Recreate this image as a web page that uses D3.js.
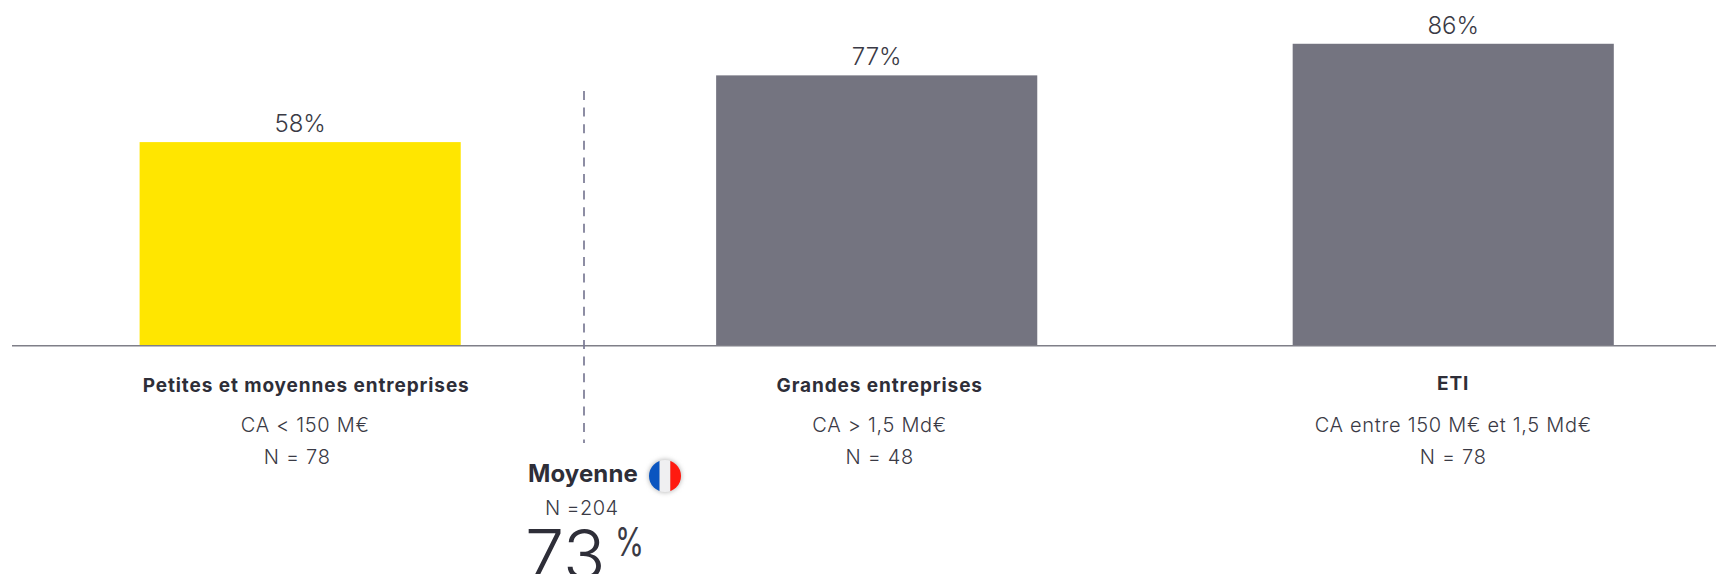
<!DOCTYPE html>
<html lang="fr">
<head>
<meta charset="utf-8">
<title>Moyenne France</title>
<script src="https://cdn.jsdelivr.net/npm/d3@7/dist/d3.min.js"></script>
<style>
  html, body { margin: 0; padding: 0; background: #fff; overflow: hidden; }
  svg { display: block; }
  text { font-family: "Inter", "Noto Sans", sans-serif; fill: #3a3a45; }
  .value { font-size: 24px; font-weight: 300; text-anchor: middle; }
  .title { font-size: 19px; font-weight: 700; text-anchor: middle; fill: #2e2e38; letter-spacing: .9px; }
  .sub { font-size: 20px; font-weight: 300; text-anchor: middle; letter-spacing: .7px; }
</style>
</head>
<body>
<div id="chart"></div>
<script>
// Survey results by company size
const categories = ["Petites et moyennes entreprises", "Grandes entreprises", "ETI"];
const values = [58, 77, 86];
const revenueBands = ["CA < 150 M€", "CA > 1,5 Md€", "CA entre 150 M€ et 1,5 Md€"];
const sampleSizes = ["N = 78", "N = 48", "N = 78"];
const averageLabel = "Moyenne";
const averageSample = "N =204";
const averageValue = 73;

const width = 1716, height = 574;
const baselineY = 345.8;
const barColors = ["#FFE600", "#747480", "#747480"];
// Horizontal nudges of the label rows relative to each bar centre
const titleShift = [6, 3, 0];
const bandShift = [5, 3, 0];
const sampleShift = [-3, 3, 0];

const svg = d3.select("#chart").append("svg")
  .attr("width", width).attr("height", height);

const x = d3.scaleBand().domain(categories).range([139.6, 1613.8]).paddingInner(0.443);
const y = d3.scaleLinear().domain([0, 100]).range([baselineY, baselineY - 351.2]);

// Bars
svg.selectAll("rect.bar").data(categories).join("rect")
  .attr("class", "bar")
  .attr("x", d => x(d))
  .attr("width", x.bandwidth())
  .attr("y", (d, i) => y(values[i]))
  .attr("height", (d, i) => y(0) - y(values[i]))
  .attr("fill", (d, i) => barColors[i]);

// Baseline
svg.append("line")
  .attr("x1", 12).attr("x2", width)
  .attr("y1", baselineY).attr("y2", baselineY)
  .attr("stroke", "#7f7f88").attr("stroke-width", 1.5);

// Vertical separator
svg.append("line")
  .attr("x1", 584).attr("x2", 584)
  .attr("y1", 91).attr("y2", 443)
  .attr("stroke", "#7a7a94").attr("stroke-width", 1.7)
  .attr("stroke-dasharray", "9 7.6");

// Value labels
svg.selectAll("text.value").data(values).join("text")
  .attr("class", "value")
  .attr("x", (d, i) => x(categories[i]) + x.bandwidth() / 2)
  .attr("y", d => y(d) - 10)
  .text(d => d + "%");

// Category titles and details
const center = i => x(categories[i]) + x.bandwidth() / 2;
svg.selectAll("text.title").data(categories).join("text")
  .attr("class", "title")
  .attr("x", (d, i) => center(i) + titleShift[i])
  .attr("y", (d, i) => i === 2 ? 389.5 : 391.5)
  .text(d => d);
svg.selectAll("text.band").data(revenueBands).join("text")
  .attr("class", "sub band")
  .attr("x", (d, i) => center(i) + bandShift[i])
  .attr("y", 431.5)
  .text(d => d);
svg.selectAll("text.sample").data(sampleSizes).join("text")
  .attr("class", "sub sample")
  .attr("x", (d, i) => center(i) + sampleShift[i])
  .attr("y", 464)
  .text(d => d);

// National average block
svg.append("text").attr("x", 528).attr("y", 482)
  .attr("font-size", 24).attr("font-weight", 700)
  .attr("letter-spacing", 0.1)
  .style("fill", "#2e2e38").text(averageLabel);

svg.append("text").attr("x", 545).attr("y", 515)
  .attr("font-size", 20).attr("font-weight", 300)
  .attr("letter-spacing", 0.4).text(averageSample);

svg.append("text").attr("x", 525).attr("y", 580)
  .attr("font-size", 70).attr("font-weight", 300)
  .style("fill", "#2e2e38").text(averageValue);

// Narrow percent sign beside the average
svg.append("text").attr("transform", "translate(615,556) scale(0.74,1)")
  .attr("font-size", 40).attr("font-weight", 400).text("%");

// French flag badge
const defs = svg.append("defs");
defs.append("clipPath").attr("id", "flag-clip")
  .append("circle").attr("r", 16);
const shadow = defs.append("filter").attr("id", "flag-shadow")
  .attr("x", "-30%").attr("y", "-30%").attr("width", "160%").attr("height", "160%");
shadow.append("feGaussianBlur").attr("stdDeviation", 2);

const flag = svg.append("g").attr("transform", "translate(665,476)");
flag.append("circle").attr("r", 17).attr("fill", "#c4c4c4")
  .attr("filter", "url(#flag-shadow)");
const flagColors = ["#0a55c0", "#efeff1", "#ff1a10"];
const flagX = d3.scaleBand().domain(d3.range(3)).range([-16, 16]);
flag.append("g").attr("clip-path", "url(#flag-clip)")
  .selectAll("rect").data(flagColors).join("rect")
  .attr("x", (d, i) => flagX(i))
  .attr("y", -16)
  .attr("width", flagX.bandwidth())
  .attr("height", 32)
  .attr("fill", d => d);
</script>
</body>
</html>
